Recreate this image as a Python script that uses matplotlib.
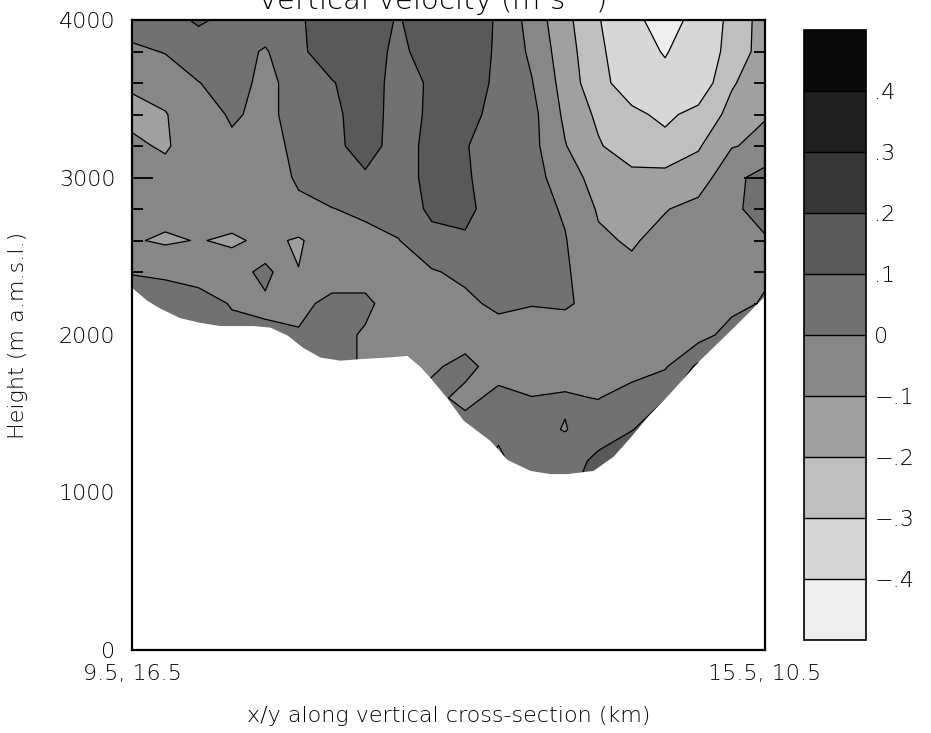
import numpy as np
import matplotlib
matplotlib.use("Agg")
import matplotlib.pyplot as plt
from matplotlib.ticker import MultipleLocator

# ---------------- data ----------------
x_start_label = "9.5, 16.5"
x_end_label = "15.5, 10.5"
section_len_km = 8.485

dist_km = np.linspace(0.0, section_len_km, 20)
height_m = np.arange(4000, 999, -200)          # rows listed top -> bottom

w_4000 = [0.05, 0.06, 0.115, 0.07, 0.06, 0.09, 0.14, 0.13, 0.095, 0.14, 0.15, 0.09, -0.04, -0.17, -0.295, -0.37, -0.45, -0.36, -0.28, -0.15]
w_3800 = [-0.02, 0.005, 0.04, 0.04, -0.01, 0.085, 0.14, 0.14, 0.08, 0.14, 0.15, 0.087, -0.02, -0.155, -0.28, -0.37, -0.405, -0.36, -0.27, -0.15]
w_3600 = [-0.09, -0.06, -0.002, 0.03, -0.02, 0.03, 0.095, 0.14, 0.07, 0.11, 0.15, 0.08, 0.005, -0.14, -0.27, -0.35, -0.38, -0.37, -0.21, -0.14]
w_3400 = [-0.12, -0.105, -0.04, 0.01, -0.02, 0.03, 0.085, 0.13, 0.075, 0.11, 0.13, 0.07, 0.03, -0.12, -0.22, -0.28, -0.32, -0.27, -0.17, -0.105]
w_3200 = [-0.085, -0.11, -0.05, -0.015, -0.03, 0.02, 0.08, 0.13, 0.07, 0.12, 0.105, 0.06, 0.03, -0.095, -0.19, -0.26, -0.27, -0.21, -0.105, -0.08]
w_3000 = [-0.07, -0.07, -0.06, -0.05, -0.04, 0.01, 0.06, 0.09, 0.07, 0.12, 0.11, 0.06, 0.03, -0.04, -0.15, -0.17, -0.17, -0.15, -0.03, 0.04]
w_2800 = [-0.06, -0.06, -0.05, -0.05, -0.04, -0.015, -0.003, 0.02, 0.04, 0.12, 0.12, 0.06, 0.035, -0.01, -0.11, -0.13, -0.105, -0.07, -0.02, 0.04]
w_2600 = [-0.09, -0.115, -0.095, -0.115, -0.08, -0.11, -0.05, -0.03, -0.003, 0.07, 0.09, 0.05, 0.03, 0.005, -0.085, -0.11, -0.07, -0.04, -0.03, -0.01]
w_2400 = [-0.003, -0.01, -0.03, -0.05, 0.03, -0.098, -0.06, -0.04, -0.03, -0.008, 0.02, 0.04, 0.03, 0.01, -0.05, -0.08, -0.07, -0.05, -0.03, -0.015]
w_2200 = [0.03, 0.03, 0.03, -0.005, -0.02, -0.03, 0.03, 0.02, -0.05, -0.04, -0.02, 0.02, 0.005, 0.015, -0.04, -0.06, -0.06, -0.05, -0.03, 0.01]
w_2000 = [0.04, 0.04, 0.03, 0.02, 0.02, 0.01, 0.03, -0.01, -0.04, -0.02, -0.03, -0.04, -0.05, -0.06, -0.07, -0.075, -0.06, -0.04, 0.04, 0.05]
w_1800 = [0.04, 0.04, 0.04, 0.04, 0.04, 0.03, 0.03, -0.01, -0.02, -0.01, 0.02, -0.03, -0.04, -0.04, -0.05, -0.05, -0.01, 0.12, 0.08, 0.08]
w_1600 = [0.04, 0.04, 0.04, 0.04, 0.04, 0.04, 0.04, -0.01, -0.01, 0.02, -0.02, 0.02, 0.002, 0.01, -0.003, 0.05, 0.09, 0.15, 0.12, 0.12]
w_1400 = [0.04, 0.04, 0.04, 0.04, 0.04, 0.04, 0.04, -0.01, -0.01, 0.02, 0.03, 0.01, 0.03, -0.005, 0.06, 0.09, 0.25, 0.2, 0.15, 0.15]
w_1200 = [0.04, 0.04, 0.04, 0.04, 0.04, 0.04, 0.04, -0.01, -0.01, 0.03, 0.03, -0.01, 0.03, 0.06, 0.12, 0.3, 0.3, 0.25, 0.2, 0.2]
w_1000 = [0.04, 0.04, 0.04, 0.04, 0.04, 0.04, 0.04, -0.01, -0.01, 0.03, 0.03, -0.02, 0.03, 0.08, 0.15, 0.3, 0.3, 0.25, 0.2, 0.2]

w_rows = [w_4000, w_3800, w_3600, w_3400, w_3200, w_3000, w_2800, w_2600,
          w_2400, w_2200, w_2000, w_1800, w_1600, w_1400, w_1200, w_1000]

terrain_dist_km = [0.0, 0.20, 0.375, 0.643, 0.911, 1.18, 1.622, 1.85, 2.078, 2.292,
                   2.52, 2.788, 3.056, 3.418, 3.686, 3.86, 3.995, 4.222, 4.437, 4.799,
                   5.027, 5.335, 5.603, 5.831, 6.179, 6.448, 6.675, 6.903, 7.185, 7.627,
                   8.083, 8.485]
terrain_height_m = [2300, 2220, 2170, 2110, 2080, 2060, 2060, 2050, 2000, 1920,
                    1860, 1840, 1850, 1860, 1870, 1800, 1730, 1600, 1460, 1330,
                    1210, 1140, 1120, 1120, 1140, 1230, 1350, 1480, 1620, 1850,
                    2060, 2250]

level_bounds = [-0.5, -0.4, -0.3, -0.2, -0.1, 0.0, 0.1, 0.2, 0.3, 0.4, 0.5]
line_levels = [-0.4, -0.3, -0.2, -0.1, 0.0, 0.1, 0.2, 0.3, 0.4]
cbar_labels = ["\u2212.4", "\u2212.3", "\u2212.2", "\u2212.1", "0", ".1", ".2", ".3", ".4"]
shades = ["#eeeeee", "#d7d7d7", "#bfbfbf", "#a0a0a0", "#878787",
          "#717171", "#595959", "#363636", "#202020", "#0a0a0a"]

# ---------------- figure ----------------
plt.rcParams['font.family'] = ['DejaVu Sans']
plt.rcParams['font.weight'] = 'light'
plt.rcParams['axes.labelweight'] = 'light'
plt.rcParams['text.color'] = 'black'

fig = plt.figure(figsize=(9.31, 7.33), dpi=100)

ax = fig.add_axes([132 / 931, (733 - 650) / 733, (765 - 132) / 931, (650 - 20) / 733])

Z = np.array(w_rows)[::-1]
Hm = height_m[::-1]
cf = ax.contourf(dist_km, Hm, Z, levels=level_bounds, colors=shades, zorder=1)
ax.contour(dist_km, Hm, Z, levels=line_levels, colors='black', linewidths=0.9,
           linestyles='solid', zorder=2)

ax.fill_between(terrain_dist_km, 0, terrain_height_m, color='white', lw=0, zorder=3)

ax.set_xlim(0, section_len_km)
ax.set_ylim(0, 4000)

ax.yaxis.set_major_locator(MultipleLocator(1000))
ax.yaxis.set_minor_locator(MultipleLocator(200))
ax.tick_params(axis='y', which='major', direction='in', length=15, width=1.3,
               left=True, right=True, labelsize=16, pad=12, color='black',
               labelcolor='black')
ax.tick_params(axis='y', which='minor', direction='in', length=8, width=1.3,
               left=True, right=True, color='black')

ax.set_xticks([0, section_len_km])
ax.set_xticklabels([x_start_label, x_end_label])
ax.tick_params(axis='x', which='both', length=0, labelsize=16, pad=10,
               labelcolor='black')

for sp in ax.spines.values():
    sp.set_linewidth(1.6)
    sp.set_zorder(5)

ax.set_ylabel("Height (m a.m.s.l.)", fontsize=16, labelpad=22, fontweight='light')
ax.set_xlabel("x/y along vertical cross-section (km)", fontsize=16, labelpad=16,
              fontweight='light')

fig.text(432 / 931, 1 - 10 / 733, "Vertical velocity (m s$^{-1}$)", ha='center',
         va='baseline', fontsize=21, fontweight='light')

# colourbar
cax = fig.add_axes([804 / 931, (733 - 640) / 733, 62 / 931, 610 / 733])
cb = fig.colorbar(cf, cax=cax, drawedges=True)
cb.set_ticks(line_levels)
cb.set_ticklabels(cbar_labels)
cb.ax.tick_params(length=0, labelsize=16, pad=6, labelcolor='black')
cb.outline.set_linewidth(1.2)
cb.dividers.set_linewidth(1.0)

fig.savefig("out.png", dpi=100)
